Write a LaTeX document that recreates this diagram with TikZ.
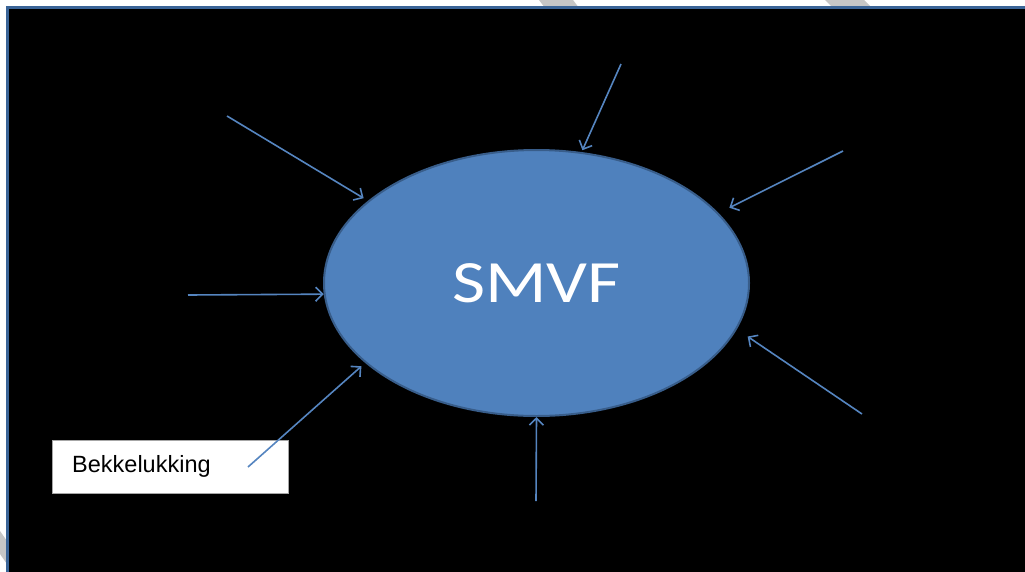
\documentclass[tikz,border=0pt]{standalone}
\usepackage{fontspec}
\usepackage{graphicx}
\usetikzlibrary{shapes.geometric,arrows.meta}
\setmainfont{Liberation Sans}
\newfontfamily\calib{Carlito}
\definecolor{frameblue}{HTML}{3A6497}
\definecolor{ovalfill}{HTML}{4F81BD}
\definecolor{ovaledge}{HTML}{385D8A}
\definecolor{arrowblue}{HTML}{5585C0}
\definecolor{markgray}{HTML}{C6C6C6}
\tikzset{
  inflow/.style={draw=arrowblue, line width=1.6pt,
    -{Straight Barb[length=7pt,width=14pt,line width=1.6pt]}},
  stripe/.style={fill=markgray, draw=none},
  tagbox/.style={draw=gray!70, line width=0.6pt, fill=white, inner sep=0pt,
    minimum width=236pt, minimum height=53pt, anchor=north west}
}
\begin{document}
\begin{tikzpicture}[x=1pt,y=-1pt]
  \useasboundingbox (0,0) rectangle (1025,571);
  \clip (0,0) rectangle (1025,571);
  \fill[white] (0,0) rectangle (1025,571);
  % light diagonal stripes of the paper behind the slide
  \fill[stripe] (539,0) -- (573,0) -- (579,8) -- (545,8) -- cycle;
  \fill[stripe] (825,0) -- (864,0) -- (872,8) -- (833,8) -- cycle;
  \fill[stripe] (0,531) -- (7,541) -- (7,564) -- (0,554) -- cycle;
  % slide background with its blue frame
  \draw[frameblue, line width=3.5pt, fill=black] (7.5,7.5) rectangle (1060,600);
  % central oval
  \node[ellipse, fill=ovalfill, draw=ovaledge, line width=2pt,
        minimum width=425pt, minimum height=266pt, inner sep=0pt]
        (smvf) at (536.5,283)
        {\calib\fontsize{60}{60}\selectfont\color{white}\scalebox{1.2}[1]{SMVF}};
  % caption box
  \node[tagbox] (tag) at (52,440) {};
  \node[anchor=west, inner sep=0pt] (tagtext) at (72,466)
        {\fontsize{23.5}{23.5}\selectfont Bekkelukking};
  % free ends of the incoming arrows
  \coordinate (s1) at (227,116);
  \coordinate (s2) at (621,64);
  \coordinate (s3) at (843,151);
  \coordinate (s4) at (188,295);
  \coordinate (s5) at (862,414);
  \coordinate (s6) at (248,467);
  \coordinate (s7) at (536,501);
  \draw[inflow, shorten >=5pt] (s1) -- (smvf.154.6);
  \draw[inflow, shorten >=2pt] (s2) -- (smvf.71.2);
  \draw[inflow, shorten >=12pt] (s3) -- (smvf.21.3);
  \draw[inflow] (s4) -- (smvf.183.2);
  \draw[inflow, shorten >=13pt] (s5) -- (smvf.-13.5);
  \draw[inflow, shorten >=5pt] (s6) -- (smvf.205.7);
  \draw[inflow] (s7) -- (smvf.270);
\end{tikzpicture}
\end{document}
